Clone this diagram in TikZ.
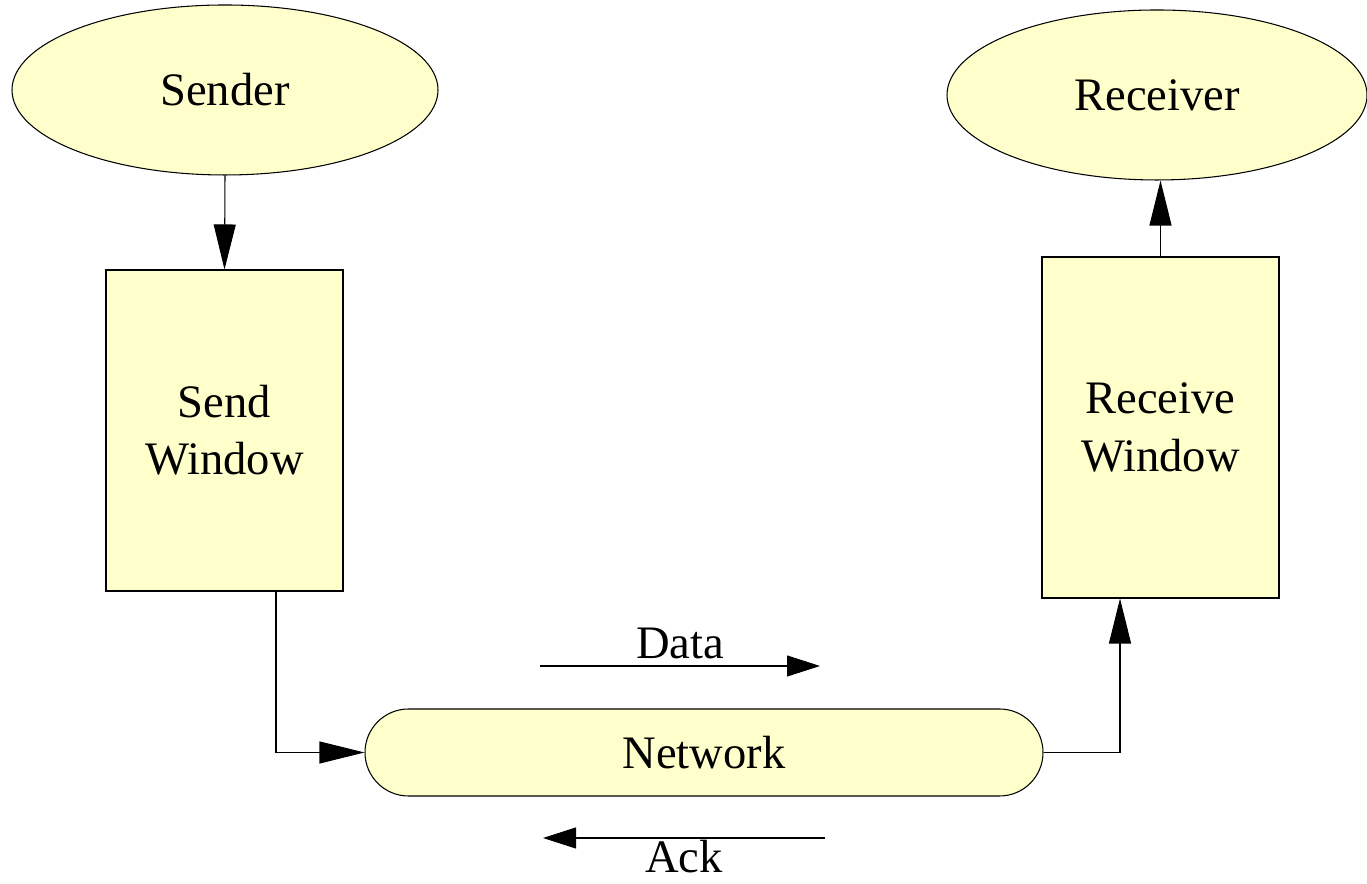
\documentclass[tikz,border=0pt]{standalone}
\usepackage{fontspec}
\setmainfont{Liberation Serif}
\usepackage{tikz}
\usetikzlibrary{shapes.geometric, arrows.meta, positioning}
\definecolor{boxfill}{RGB}{255,255,204}

\begin{document}
\begin{tikzpicture}[
    font=\fontsize{26.5}{32.5}\selectfont,
    party/.style={draw, ellipse, fill=boxfill, line width=0.6pt, inner sep=0pt},
    window/.style={draw, fill=boxfill, line width=0.6pt, minimum width=4.74cm, align=center},
    arrow/.style={-{Triangle[length=0.9cm, width=0.44cm]}, line width=0.6pt},
    flow/.style={-{Triangle[length=0.66cm, width=0.42cm]}, line width=0.6pt}
]
    \useasboundingbox (0,0) rectangle (27.34,17.68);

    \node[party, minimum width=8.52cm, minimum height=3.4cm] (sender) at (4.5,15.88) {Sender};
    \node[party, minimum width=8.4cm, minimum height=3.4cm] (receiver) at (23.14,15.78) {Receiver};
    \node[window, minimum height=6.42cm] (sendwin) at (4.49,9.07) {Send\\Window};
    \node[window, minimum height=6.82cm] (recvwin) at (23.21,9.13) {Receive\\Window};
    \node[draw, fill=boxfill, line width=0.6pt, rounded corners=0.87cm,
          minimum width=13.56cm, minimum height=1.74cm] (network) at (14.08,2.63) {Network};

    \draw[arrow] (sender.south) -- (sendwin.north);
    \draw[arrow] (recvwin.north) -- (recvwin.north |- receiver.south);
    \draw[arrow] ([xshift=1.03cm]sendwin.south) |- (network.west);
    \draw[arrow] (network.east) -| ([xshift=-0.81cm]recvwin.south);

    % traffic direction
    \coordinate (data-s) at (10.8,4.36);
    \coordinate (data-e) at (16.4,4.36);
    \coordinate (ack-s) at (16.5,0.92);
    \coordinate (ack-e) at (10.86,0.92);
    \draw[flow] (data-s) -- node[above=0.02cm] {Data} (data-e);
    \draw[flow] (ack-s) -- node[below=-0.08cm] {Ack} (ack-e);
\end{tikzpicture}
\end{document}
